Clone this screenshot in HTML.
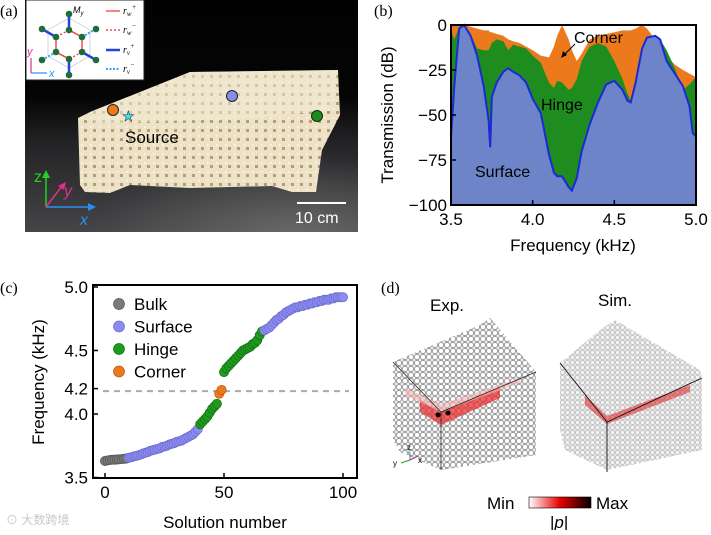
<!DOCTYPE html>
<html><head><meta charset="utf-8">
<style>
html,body{margin:0;padding:0;background:#fff;}
body{width:711px;height:530px;overflow:hidden;position:relative;font-family:"Liberation Sans",sans-serif;}
svg text{font-family:"Liberation Sans",sans-serif;}
</style></head>
<body>
<svg id="fig" width="711" height="530" viewBox="0 0 711 530" xmlns="http://www.w3.org/2000/svg">
<defs>
  <linearGradient id="floor" x1="0" y1="0" x2="0" y2="1">
    <stop offset="0" stop-color="#020202"/><stop offset="0.42" stop-color="#050505"/><stop offset="0.62" stop-color="#242426"/><stop offset="1" stop-color="#454547"/>
  </linearGradient>
  <radialGradient id="shine" cx="0.8" cy="1" r="0.6"><stop offset="0" stop-color="#8a8a8a" stop-opacity="0.5"/><stop offset="1" stop-color="#8a8a8a" stop-opacity="0"/></radialGradient>
  <pattern id="lattice" width="9" height="9" patternUnits="userSpaceOnUse">
    <rect width="9" height="9" fill="#ede2c6"/><rect x="3" y="3" width="3" height="3" fill="#b09f78"/><circle cx="0.5" cy="0.5" r="1.3" fill="#fbf6ea"/>
  </pattern>
  <pattern id="balls" width="6" height="6" patternUnits="userSpaceOnUse">
    <rect width="6" height="6" fill="#f0f0f0"/><circle cx="3" cy="3" r="2.6" fill="#fff" stroke="#7a7a7a" stroke-width="0.7"/>
  </pattern>
  <pattern id="balls2" width="5" height="5" patternUnits="userSpaceOnUse">
    <rect width="5" height="5" fill="#e4e4e4"/><circle cx="2.5" cy="2.5" r="2" fill="#f6f6f6" stroke="#a8a8a8" stroke-width="0.5"/>
  </pattern>
  <linearGradient id="cbar" x1="0" x2="1"><stop offset="0" stop-color="#fff"/><stop offset="0.5" stop-color="#e50000"/><stop offset="1" stop-color="#000"/></linearGradient>
</defs>

<!-- Panel a -->
<g>
  <text x="0" y="16" style="font-family:'Liberation Serif',serif" font-size="16">(a)</text>
  <rect x="25" y="0" width="333" height="232" fill="url(#floor)"/>
  <rect x="25" y="100" width="333" height="132" fill="url(#shine)"/>
  <polygon fill="url(#lattice)" points="78,118 90,112 145,90 190,72 338,70 340,115 322,150 316,192 292,192 272,186 190,188 130,185 110,193 85,192 80,185"/>
  <polygon fill="#f3ead4" opacity="0.55" points="90,112 145,90 190,72 338,70 330,110 250,118 150,122 95,124"/>
  <circle cx="113" cy="110" r="5.5" fill="#ec7a1c" stroke="#222"/>
  <text x="122" y="121" font-size="14" fill="#33e6f0" stroke="#222" stroke-width="0.5">★</text>
  <circle cx="232" cy="96" r="5.5" fill="#8a8ae8" stroke="#222"/>
  <circle cx="317" cy="116" r="5.5" fill="#1c8c1c" stroke="#222"/>
  <text x="125" y="143" font-size="17" fill="#000">Source</text>
  <g stroke-width="1.5">
    <line x1="46" y1="207" x2="46" y2="176" stroke="#21d321"/><polygon points="42,178 50,178 46,170" fill="#21d321"/>
    <line x1="46" y1="207" x2="90" y2="207" stroke="#2a8ef0"/><polygon points="88,203 88,211 96,207" fill="#2a8ef0"/>
    <line x1="46" y1="207" x2="62" y2="186" stroke="#e0308a"/><polygon points="58,186 64,190 66,182" fill="#e0308a"/>
    <text x="34" y="182" font-size="16" fill="#21d321" stroke="none">z</text>
    <text x="64" y="196" font-size="16" fill="#e0308a" font-style="italic" stroke="none">y</text>
    <text x="80" y="225" font-size="16" fill="#2a8ef0" font-style="italic" stroke="none">x</text>
  </g>
  <line x1="297" y1="203" x2="346" y2="203" stroke="#fff" stroke-width="2"/>
  <text x="295" y="223" font-size="16" fill="#fff">10 cm</text>
  <g>
    <rect x="26" y="0" width="118" height="80" fill="#fff" stroke="#222"/>
    <polygon points="69,18 90,30 90,56 69,68 48,56 48,30" fill="none" stroke="#bbb" stroke-width="0.6"/>
    <g stroke-width="1.3" stroke="#e33">
      <line x1="69" y1="30" x2="82" y2="37"/><line x1="82" y1="37" x2="82" y2="52"/><line x1="56" y1="37" x2="56" y2="52"/><line x1="56" y1="52" x2="69" y2="59"/>
      <line x1="69" y1="30" x2="56" y2="37" stroke-dasharray="2,2"/><line x1="82" y1="52" x2="69" y2="59" stroke-dasharray="2,2"/>
    </g>
    <g stroke="#2244dd" stroke-width="2.5"><line x1="69" y1="14" x2="69" y2="30"/><line x1="42" y1="29" x2="56" y2="37"/><line x1="82" y1="52" x2="96" y2="60"/><line x1="69" y1="59" x2="69" y2="75"/></g>
    <g stroke="#3aa0f0" stroke-width="2" stroke-dasharray="2,1.5"><line x1="82" y1="37" x2="96" y2="29"/><line x1="56" y1="52" x2="42" y2="60"/></g>
    <g fill="#1e6b3c"><circle cx="69" cy="14" r="3.3"/><circle cx="96" cy="29" r="3.3"/><circle cx="96" cy="60" r="3.3"/><circle cx="69" cy="75" r="3.3"/><circle cx="42" cy="60" r="3.3"/><circle cx="42" cy="29" r="3.3"/><circle cx="69" cy="30" r="3.3"/><circle cx="82" cy="37" r="3.3"/><circle cx="82" cy="52" r="3.3"/><circle cx="69" cy="59" r="3.3"/><circle cx="56" cy="52" r="3.3"/><circle cx="56" cy="37" r="3.3"/></g>
    <text x="73" y="13" font-size="9" font-style="italic">M<tspan font-size="6" dy="2">y</tspan></text>
    <line x1="31" y1="73" x2="31" y2="58" stroke="#e0308a" stroke-width="1.2"/><text x="27" y="55" font-size="11" fill="#e0308a" font-style="italic">y</text>
    <line x1="31" y1="73" x2="47" y2="73" stroke="#2a8ef0" stroke-width="1.2"/><text x="49" y="77" font-size="11" fill="#2a8ef0" font-style="italic">x</text>
    <line x1="106" y1="11" x2="120" y2="11" stroke="#e33" stroke-width="1.2"/><text x="123" y="14" font-size="10" font-style="italic" style="font-family:'Liberation Serif',serif">r<tspan font-size="7" dy="2">w</tspan><tspan font-size="7" dy="-7">+</tspan></text>
    <line x1="106" y1="30" x2="120" y2="30" stroke="#e33" stroke-width="1.2" stroke-dasharray="2,2"/><text x="123" y="33" font-size="10" font-style="italic" style="font-family:'Liberation Serif',serif">r<tspan font-size="7" dy="2">w</tspan><tspan font-size="7" dy="-7">−</tspan></text>
    <line x1="106" y1="50" x2="120" y2="50" stroke="#2244dd" stroke-width="2.5"/><text x="123" y="53" font-size="10" font-style="italic" style="font-family:'Liberation Serif',serif">r<tspan font-size="7" dy="2">v</tspan><tspan font-size="7" dy="-7">+</tspan></text>
    <line x1="106" y1="69" x2="120" y2="69" stroke="#3aa0f0" stroke-width="2" stroke-dasharray="2,1.5"/><text x="123" y="72" font-size="10" font-style="italic" style="font-family:'Liberation Serif',serif">r<tspan font-size="7" dy="2">v</tspan><tspan font-size="7" dy="-7">−</tspan></text>
  </g>
</g>

<!-- Panel b -->
<g id="panelB">
  <text x="374" y="16" style="font-family:'Liberation Serif',serif" font-size="16">(b)</text>
</g>

<!-- Panel c -->
<g id="panelC">
  <text x="0" y="293" style="font-family:'Liberation Serif',serif" font-size="16">(c)</text>
</g>

<!-- Panel d -->
<g>
  <text x="381" y="293" style="font-family:'Liberation Serif',serif" font-size="16">(d)</text>
  <text x="430" y="311" font-size="17">Exp.</text>
  <text x="598" y="306" font-size="17">Sim.</text>
  <g>
    <polygon points="393,362 441,412 441,470 400,452 393,440" fill="url(#balls)"/>
    <polygon points="441,412 536,372 536,455 441,470" fill="url(#balls)"/>
    <polygon points="393,362 480,325 490,318 536,372 441,412" fill="url(#balls)"/>
    <polygon points="420,400 441,412 500,388 500,398 441,425 420,412" fill="#e83030" opacity="0.75"/>
    <polygon points="405,388 441,404 520,378 520,383 441,412 405,395" fill="#f4b0b0" opacity="0.6"/>
    <line x1="393" y1="362" x2="441" y2="412" stroke="#222" stroke-width="0.8"/><line x1="441" y1="412" x2="536" y2="372" stroke="#222" stroke-width="0.8"/><line x1="441" y1="412" x2="441" y2="470" stroke="#222" stroke-width="0.8"/>
    <circle cx="438" cy="415" r="2.5" fill="#000"/><circle cx="448" cy="413" r="2.5" fill="#000"/>
    <g stroke-width="1"><line x1="410" y1="460" x2="410" y2="452" stroke="#3a8ad0"/><line x1="410" y1="460" x2="401" y2="463" stroke="#2a9a2a"/><line x1="410" y1="460" x2="418" y2="456" stroke="#c0306a"/></g>
    <text x="393" y="466" font-size="8">y</text><text x="407" y="450" font-size="8">z</text><text x="418" y="463" font-size="8">x</text>
  </g>
  <g>
    <polygon points="560,363 607,422 607,470 565,450 560,430" fill="url(#balls2)"/>
    <polygon points="607,422 702,378 702,450 607,470" fill="url(#balls2)"/>
    <polygon points="560,363 600,330 615,320 700,370 702,378 607,422" fill="url(#balls2)"/>
    <polygon points="585,395 607,416 690,385 690,392 607,424 585,405" fill="#e02020" opacity="0.55"/>
    <line x1="560" y1="363" x2="607" y2="422" stroke="#111" stroke-width="0.9"/><line x1="607" y1="422" x2="702" y2="378" stroke="#111" stroke-width="0.9"/><line x1="607" y1="422" x2="607" y2="472" stroke="#111" stroke-width="0.9"/>
  </g>
  <text x="487" y="509" font-size="17">Min</text>
  <rect x="529" y="497" width="62" height="11" fill="url(#cbar)" stroke="#000" stroke-width="0.6"/>
  <text x="596" y="509" font-size="17">Max</text>
  <text x="550" y="528" font-size="17">|<tspan font-style="italic">p</tspan>|</text>
</g>
<text x="6" y="524" font-size="12" fill="#c8c8c8">⊙ 大数跨境</text>
</svg>

<script>
// ---------- Panel b data ----------
const freqB = [3.5,3.52,3.55,3.58,3.62,3.66,3.70,3.73,3.74,3.75,3.78,3.82,3.85,3.88,3.92,3.96,4.0,4.05,4.1,4.13,4.15,4.18,4.22,4.24,4.27,4.3,4.35,4.4,4.45,4.5,4.55,4.58,4.6,4.63,4.67,4.7,4.75,4.78,4.82,4.87,4.92,4.96,4.98,5.0];
const surfaceB = [-62,-34,-2,0,-6,-17,-34,-53,-68,-40,-32,-26,-24,-26,-28,-32,-41,-49,-72,-82,-84,-84,-90,-92,-85,-70,-55,-43,-33,-31,-36,-42,-43,-32,-13,-7,-6,-8,-20,-27,-34,-45,-60,-62];
const hingeB = [-3,-8,-1,0,-5,-13,-14,-14,-12,-10,-8,-9,-14,-11,-12,-13,-17,-21,-32,-35,-31,-32,-36,-35,-30,-20,-12,-10,-12,-20,-30,-38,-42,-30,-13,-7,-6,-8,-14,-24,-36,-33,-31,-29];
const cornerB = [0,0,0,0,-1,-2,-3,-3,-4,-4,-5,-6,-8,-9,-10,-12,-14,-17,-18,-12,-6,0,-8,-14,-20,-16,-8,-6,-5,-4,-3,-3,-3,-2,0,-2,-8,-12,-17,-22,-25,-27,-28,-29];
const xTicksB = [3.5,4.0,4.5,5.0];
const xTickLabelsB = ["3.5","4.0","4.5","5.0"];
const yTicksB = [0,-25,-50,-75,-100];
const yTickLabelsB = ["0","−25","−50","−75","−100"];

// ---------- Panel c data ----------
const solutionC = [];
const freqC = [3.63,3.635,3.637,3.64,3.64,3.642,3.643,3.645,3.647,3.65,
 3.655,3.66,3.665,3.67,3.675,3.68,3.69,3.695,3.70,3.71,3.715,3.72,3.725,3.73,3.74,3.745,3.75,3.76,3.765,3.77,3.78,3.785,3.79,3.80,3.81,3.82,3.83,3.84,3.86,3.88,
 3.92,3.94,3.96,3.98,4.01,4.04,4.06,4.08,
 4.16,4.19,
 4.33,4.36,4.38,4.40,4.42,4.44,4.46,4.48,4.50,4.51,4.52,4.53,4.55,4.56,4.58,4.62,4.65,
 4.66,4.67,4.68,4.70,4.72,4.74,4.75,4.77,4.78,4.80,4.81,4.82,4.83,4.84,4.84,4.85,4.85,4.86,4.86,4.87,4.87,4.88,4.88,4.89,4.89,4.90,4.90,4.90,4.91,4.91,4.92,4.92,4.92,4.92];
const typeC = "BBBBBBBBBBSSSSSSSSSSSSSSSSSSSSSSSSSSSSSSHHHHHHHHCCHHHHHHHHHHHHHHHHHSSSSSSSSSSSSSSSSSSSSSSSSSSSSSSSSSS";
for (let i = 0; i < freqC.length; i++) solutionC.push(i);
const legendNamesC = ["Bulk","Surface","Hinge","Corner"];
const legendCodesC = ["B","S","H","C"];
const xTicksC = [0,50,100];
const yTicksC = [3.5,4.0,4.2,4.5,5.0];
const yTickLabelsC = ["3.5","4.0","4.2","4.5","5.0"];
const refLineC = 4.18;

const NS = "http://www.w3.org/2000/svg";
function mk(parent, tag, attrs) {
  const el = document.createElementNS(NS, tag);
  for (const k in attrs) el.setAttribute(k, attrs[k]);
  parent.appendChild(el);
  return el;
}

// ---------- draw panel b ----------
(function(){
  const g = document.getElementById('panelB');
  const L = 451, R = 696, T = 25, B = 205;
  const xs = f => L + (f - 3.5) / 1.5 * (R - L);
  const ys = v => T + (0 - v) / 100 * (B - T);
  function areaPath(vals) {
    let d = 'M' + xs(freqB[0]) + ',' + ys(-100);
    for (let i = 0; i < freqB.length; i++) d += ' L' + xs(freqB[i]).toFixed(1) + ',' + ys(vals[i]).toFixed(1);
    d += ' L' + xs(freqB[freqB.length - 1]) + ',' + ys(-100) + ' Z';
    return d;
  }
  function linePath(vals) {
    let d = '';
    for (let i = 0; i < freqB.length; i++) d += (i ? ' L' : 'M') + xs(freqB[i]).toFixed(1) + ',' + ys(vals[i]).toFixed(1);
    return d;
  }
  const c = mk(g, 'path', {d: areaPath(cornerB), fill: '#ec7a1c'});
  
  
  const h = mk(g, 'path', {d: areaPath(hingeB), fill: '#1e8c1e'});
  
  
  const s = mk(g, 'path', {d: areaPath(surfaceB), fill: '#7f82ee', 'fill-opacity': '0.82'});
  
  
  const sl = mk(g, 'path', {d: linePath(surfaceB), fill: 'none', stroke: '#1a2bd6', 'stroke-width': 2});
  
  
  const fr = mk(g, 'rect', {x: L, y: T, width: R - L, height: B - T, fill: 'none', stroke: '#000', 'stroke-width': 2});
  
  
  xTicksB.forEach((t, i) => {
    mk(g, 'line', {x1: xs(t), x2: xs(t), y1: B, y2: B - 5, stroke: '#000', 'stroke-width': 1.5});
    const tx = mk(g, 'text', {x: xs(t), y: B + 20, 'text-anchor': 'middle', 'font-size': 17});
    tx.textContent = xTickLabelsB[i];
    
    
  });
  yTicksB.forEach((t, i) => {
    mk(g, 'line', {x1: L, x2: L + 5, y1: ys(t), y2: ys(t), stroke: '#000', 'stroke-width': 1.5});
    const tx = mk(g, 'text', {x: L - 4, y: ys(t) + 6, 'text-anchor': 'end', 'font-size': 17});
    tx.textContent = yTickLabelsB[i];
    
    
  });
  const xl = mk(g, 'text', {x: 573, y: 251, 'text-anchor': 'middle', 'font-size': 17});
  xl.textContent = 'Frequency (kHz)';
  
  
  const yl = mk(g, 'text', {x: 0, y: 0, 'text-anchor': 'middle', 'font-size': 17, transform: 'translate(393,115) rotate(-90)'});
  yl.textContent = 'Transmission (dB)';
  
  
  const lc = mk(g, 'text', {x: 574, y: 43, 'font-size': 16});
  lc.textContent = 'Corner';
  
  
  mk(g, 'line', {x1: 575, y1: 44, x2: 564, y2: 55, stroke: '#000', 'stroke-width': 1});
  mk(g, 'polygon', {points: '561,58 563,51 567,55', fill: '#000'});
  const lh = mk(g, 'text', {x: 541, y: 110, 'font-size': 16});
  lh.textContent = 'Hinge';
  
  
  const ls = mk(g, 'text', {x: 475, y: 177, 'font-size': 16});
  ls.textContent = 'Surface';
  
  
})();

// ---------- draw panel c ----------
(function(){
  const g = document.getElementById('panelC');
  const L = 93, R = 357, T = 285, B = 478;
  const xs = n => 105 + n / 100 * 238;
  const ys = f => 287 + (5.0 - f) * 127;
  const colors = {B: '#7a7a7a', S: '#8c8cf0', H: '#1e9a1e', C: '#ec7a1c'};
  const edges = {B: '#555', S: '#6a6ad0', H: '#147014', C: '#b85a10'};
  mk(g, 'line', {x1: L + 10, x2: R - 8, y1: ys(refLineC), y2: ys(refLineC), stroke: '#aaa', 'stroke-width': 2, 'stroke-dasharray': '6,5'});
  for (let i = 0; i < freqC.length; i++) {
    const t = typeC[i];
    const p = mk(g, 'circle', {cx: xs(solutionC[i]).toFixed(1), cy: ys(freqC[i]).toFixed(1), r: 4.6, fill: colors[t], stroke: edges[t], 'stroke-width': 0.7});
    
    
  }
  const fr = mk(g, 'rect', {x: L, y: T, width: R - L, height: B - T, fill: 'none', stroke: '#000', 'stroke-width': 2});
  
  
  xTicksC.forEach(t => {
    mk(g, 'line', {x1: xs(t), x2: xs(t), y1: B, y2: B - 5, stroke: '#000', 'stroke-width': 1.5});
    const tx = mk(g, 'text', {x: xs(t), y: B + 20, 'text-anchor': 'middle', 'font-size': 17});
    tx.textContent = String(t);
    
    
  });
  yTicksC.forEach((t, i) => {
    mk(g, 'line', {x1: L, x2: L + 5, y1: ys(t), y2: ys(t), stroke: '#000', 'stroke-width': 1.5});
    const tx = mk(g, 'text', {x: L - 5, y: ys(t) + 6, 'text-anchor': 'end', 'font-size': 17});
    tx.textContent = yTickLabelsC[i];
    
    
  });
  legendNamesC.forEach((n, i) => {
    const y = 304 + i * 22.5;
    const m = mk(g, 'circle', {cx: 119, cy: y, r: 5.5, fill: colors[legendCodesC[i]], stroke: edges[legendCodesC[i]], 'stroke-width': 0.7});
    
    
    const tx = mk(g, 'text', {x: 134, y: y + 6, 'font-size': 17});
    tx.textContent = n;
    
    
  });
  const xl = mk(g, 'text', {x: 225, y: 528, 'text-anchor': 'middle', 'font-size': 17});
  xl.textContent = 'Solution number';
  
  
  const yl = mk(g, 'text', {x: 0, y: 0, 'text-anchor': 'middle', 'font-size': 17, transform: 'translate(44,382) rotate(-90)'});
  yl.textContent = 'Frequency (kHz)';
  
  
})();
</script>
</body></html>
